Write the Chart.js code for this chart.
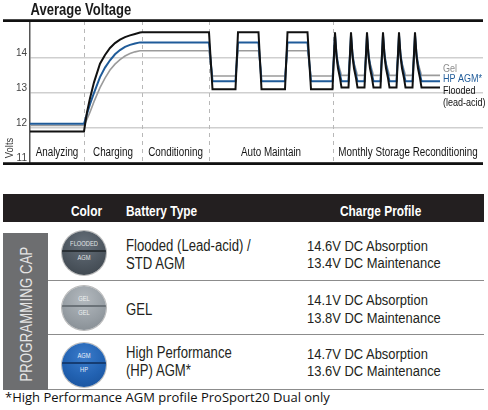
<!DOCTYPE html>
<html><head><meta charset="utf-8">
<script src="https://cdn.jsdelivr.net/npm/chart.js@4.4.1/dist/chart.umd.min.js"></script>
<style>
html,body{margin:0;padding:0;background:#fff;width:488px;height:410px;overflow:hidden;position:relative;}
#wrap{position:absolute;left:0;top:0;width:488px;height:172px;}
.n{font-family:'Liberation Sans',Arial,sans-serif;white-space:nowrap;transform:scaleX(0.82);transform-origin:left top;}
.hdr{position:absolute;left:3px;top:194px;width:481px;height:28px;background:#231f20;}
.ht{position:absolute;top:202.5px;font-size:14.5px;line-height:17px;font-weight:bold;color:#fff;}
.side{position:absolute;left:3px;top:233px;width:45px;height:157px;background:#6d6e70;}
.sidetxt{position:absolute;left:-53px;top:306px;width:160px;height:20px;line-height:20px;text-align:center;font-size:16px;color:#e4e4e4;letter-spacing:0.2px;transform:rotate(-90deg) scaleX(0.82);transform-origin:center center;}
.rule{position:absolute;left:48px;width:436px;height:1.5px;background:#8c8c8c;}
.bt{position:absolute;left:126px;font-size:16px;line-height:17.6px;color:#231f20;}
.cp{position:absolute;left:307px;font-size:15.5px;line-height:17.6px;color:#231f20;transform:scaleX(0.835);}
.cap{position:absolute;width:44px;height:44px;border-radius:50%;overflow:hidden;box-shadow:0 0 0 1px #b9b9b9;}
.cap .band{position:absolute;left:0;top:18.5px;width:44px;height:2.5px;}
.cap .t1,.cap .t2{position:absolute;left:0;width:44px;text-align:center;font-size:7px;line-height:8px;transform-origin:center top;}
.cap .t1{top:9px;}
.cap .t2{top:22.5px;}
.foot{position:absolute;left:5px;top:389px;font-family:'Open Sans',sans-serif;font-size:13px;line-height:17.7px;color:#111;white-space:nowrap;}
</style></head><body>
<div id="wrap"><canvas id="c" width="488" height="172" style="width:488px;height:172px"></canvas></div>

<div class="hdr"></div>
<div class="ht n" style="left:71px">Color</div>
<div class="ht n" style="left:126px">Battery Type</div>
<div class="ht n" style="left:340px">Charge Profile</div>

<div class="side"></div>
<div class="sidetxt n">PROGRAMMING CAP</div>

<div class="rule" style="top:279.5px"></div>
<div class="rule" style="top:333.5px"></div>
<div class="rule" style="top:388.5px"></div>

<div class="cap" style="left:62px;top:231px;background:radial-gradient(circle at 50% 30%,#66707a 0%,#4d565f 55%,#3a4249 100%);">
  <div class="band" style="background:#2a3035"></div>
  <div class="t1 n" style="color:#e2e4e6">FLOODED</div>
  <div class="t2 n" style="color:#e2e4e6">AGM</div>
</div>
<div class="cap" style="left:62px;top:286px;background:radial-gradient(circle at 50% 30%,#b3b9be 0%,#989fa5 55%,#80878d 100%);">
  <div class="band" style="background:#6b7278"></div>
  <div class="t1 n" style="color:#eef0f1">GEL</div>
  <div class="t2 n" style="color:#eef0f1">GEL</div>
</div>
<div class="cap" style="left:62px;top:343px;background:radial-gradient(circle at 50% 30%,#3b7ccb 0%,#2262b2 55%,#184f96 100%);">
  <div class="band" style="background:#153c72"></div>
  <div class="t1 n" style="color:#e9eff8">AGM</div>
  <div class="t2 n" style="color:#e9eff8">HP</div>
</div>

<div class="bt n" style="top:237.3px">Flooded (Lead-acid) /<br>STD AGM</div>
<div class="cp n" style="top:236.7px">14.6V DC Absorption<br>13.4V DC Maintenance</div>
<div class="bt n" style="top:300.6px">GEL</div>
<div class="cp n" style="top:291.4px">14.1V DC Absorption<br>13.8V DC Maintenance</div>
<div class="bt n" style="top:344px">High Performance<br>(HP) AGM*</div>
<div class="cp n" style="top:344.7px">14.7V DC Absorption<br>13.6V DC Maintenance</div>

<div class="foot">*High Performance AGM profile ProSport20 Dual only</div>

<script>
// ---- data ----
const phaseNames = ['Analyzing','Charging','Conditioning','Auto Maintain','Monthly Storage Reconditioning'];
const phaseBounds = [0, 54, 112, 179, 303, 453];
const voltTicks = [11, 12, 13, 14];
const seriesNames = ['Flooded', 'HP AGM*', 'Gel'];

const timeAxis = [0,54, 57,60,64,70,75,80,85,90,95,100,105,110,112, 179,
  182.5,205.5,208,228.5,231.5,255,257.5,277.5,281,
  302.5,305,306.5,308,310,311.5,
  318.5,321,322.5,324,326,327.5,
  334.5,337,338.5,340,342,343.5,
  350.5,353,354.5,356,358,359.5,
  366.5,369,370.5,372,374,375.5,
  382.5,385,386.5,388,390,391.5,
  410];

const flooded = [11.9,11.9, 12.45,12.85,13.3,13.83,14.08,14.28,14.42,14.52,14.59,14.64,14.68,14.72,14.73, 14.73,
  13.1,13.1,14.73,14.73,13.1,13.1,14.73,14.73,13.1,
  13.1,14.73,14.05,13.7,13.42,13.15,
  13.15,14.73,14.05,13.7,13.42,13.15,
  13.15,14.73,14.05,13.7,13.42,13.15,
  13.15,14.73,14.05,13.7,13.42,13.15,
  13.15,14.73,14.05,13.7,13.42,13.15,
  13.15,14.73,14.05,13.7,13.42,13.15,
  13.15];

const hpAgm = [12.12,12.12, 12.4,12.68,13.0,13.45,13.72,13.93,14.1,14.22,14.31,14.37,14.41,14.44,14.44, 14.44,
  13.33,13.33,14.44,14.44,13.33,13.33,14.44,14.44,13.33,
  13.33,14.65,14.1,13.8,13.52,13.33,
  13.33,14.65,14.1,13.8,13.52,13.33,
  13.33,14.65,14.1,13.8,13.52,13.33,
  13.33,14.65,14.1,13.8,13.52,13.33,
  13.33,14.65,14.1,13.8,13.52,13.33,
  13.33,14.65,14.1,13.8,13.52,13.33,
  13.33];

const gel = [12.07,12.07, 12.25,12.45,12.75,13.15,13.42,13.65,13.82,13.95,14.05,14.12,14.17,14.2,14.2, 14.2,
  13.48,13.48,14.2,14.2,13.48,13.48,14.2,14.2,13.48,
  13.48,14.45,14.1,13.85,13.65,13.5,
  13.5,14.45,14.1,13.85,13.65,13.5,
  13.5,14.45,14.1,13.85,13.65,13.5,
  13.5,14.45,14.1,13.85,13.65,13.5,
  13.5,14.45,14.1,13.85,13.65,13.5,
  13.5,14.45,14.1,13.85,13.65,13.5,
  13.5];

// ---- chart ----
const FONT = "'Liberation Sans',Arial,sans-serif";
const NARROW_K = 0.82;
const pts = arr => timeAxis.map((t, i) => ({x: t, y: arr[i]}));

function narrowText(ctx, text, x, y, k) {
  const w = ctx.measureText(text).width;
  ctx.fillText(text, x, y, w * (k || NARROW_K));
}

const deco = {
  id: 'deco',
  beforeDatasetsDraw(chart) {
    const {ctx, chartArea: a, scales: {x}} = chart;
    ctx.save();
    ctx.strokeStyle = '#b8b8b8';
    ctx.lineWidth = 1;
    ctx.setLineDash([4, 4]);
    phaseBounds.slice(1, -1).forEach(b => {
      const px = Math.round(x.getPixelForValue(b)) + 0.5;
      ctx.beginPath(); ctx.moveTo(px, a.top); ctx.lineTo(px, a.bottom); ctx.stroke();
    });
    ctx.restore();
  },
  afterDraw(chart) {
    const {ctx, chartArea: a, scales: {x}} = chart;
    ctx.save();
    // title
    ctx.fillStyle = '#1a1a1a';
    ctx.font = 'bold 16.5px ' + FONT;
    ctx.textAlign = 'left'; ctx.textBaseline = 'alphabetic';
    narrowText(ctx, 'Average Voltage', 30.5, 15, 0.79);
    // frame lines
    ctx.strokeStyle = '#111'; ctx.lineWidth = 2.7;
    ctx.beginPath(); ctx.moveTo(3, a.top - 0.3); ctx.lineTo(a.right, a.top - 0.3); ctx.stroke();
    ctx.beginPath(); ctx.moveTo(3, a.bottom + 0.7); ctx.lineTo(a.right, a.bottom + 0.7); ctx.stroke();
    // phase labels
    ctx.fillStyle = '#151515';
    ctx.font = '12px ' + FONT;
    ctx.textAlign = 'center'; ctx.textBaseline = 'middle';
    phaseNames.forEach((n, i) => {
      const mid = (x.getPixelForValue(phaseBounds[i]) + x.getPixelForValue(phaseBounds[i + 1])) / 2;
      narrowText(ctx, n, mid, 153);
    });
    // axis title
    ctx.save();
    ctx.translate(10, 148); ctx.rotate(-Math.PI / 2);
    ctx.fillStyle = '#333'; ctx.font = '11.5px ' + FONT;
    narrowText(ctx, 'Volts', 0, 0);
    ctx.restore();
    // series labels
    ctx.textAlign = 'left';
    ctx.font = '11px ' + FONT;
    ctx.fillStyle = '#8c8c8c'; narrowText(ctx, seriesNames[2], 443, 68.5);
    ctx.fillStyle = '#1f5b99'; narrowText(ctx, seriesNames[1], 443, 79);
    ctx.fillStyle = '#111'; narrowText(ctx, seriesNames[0], 443, 91);
    narrowText(ctx, '(lead-acid)', 443, 102.5);
    ctx.restore();
  }
};

new Chart(document.getElementById('c'), {
  type: 'line',
  data: {
    datasets: [
      {label: seriesNames[0], data: pts(flooded), borderColor: '#111111', borderWidth: 2},
      {label: seriesNames[1], data: pts(hpAgm), borderColor: '#1f5b99', borderWidth: 2},
      {label: seriesNames[2], data: pts(gel), borderColor: '#9b9b9b', borderWidth: 1.6}
    ]
  },
  options: {
    responsive: false,
    animation: false,
    layout: {padding: {top: 21, bottom: 9, left: 0, right: 5}},
    elements: {point: {radius: 0}, line: {tension: 0, borderJoinStyle: 'miter'}},
    plugins: {legend: {display: false}, tooltip: {enabled: false}, title: {display: false}},
    scales: {
      x: {type: 'linear', min: 0, max: 453, display: false},
      y: {
        min: 11, max: 15.05,
        afterBuildTicks: s => { s.ticks = voltTicks.map(v => ({value: v})); },
        afterFit: s => { s.width = 30; },
        grid: {color: '#cfcfcf', lineWidth: 1.5, drawTicks: false},
        border: {color: '#555', width: 1.5},
        ticks: {padding: 3, labelOffset: -5, color: '#444', font: {family: FONT, size: 10}}
      }
    }
  },
  plugins: [deco]
});
</script>
</body></html>
